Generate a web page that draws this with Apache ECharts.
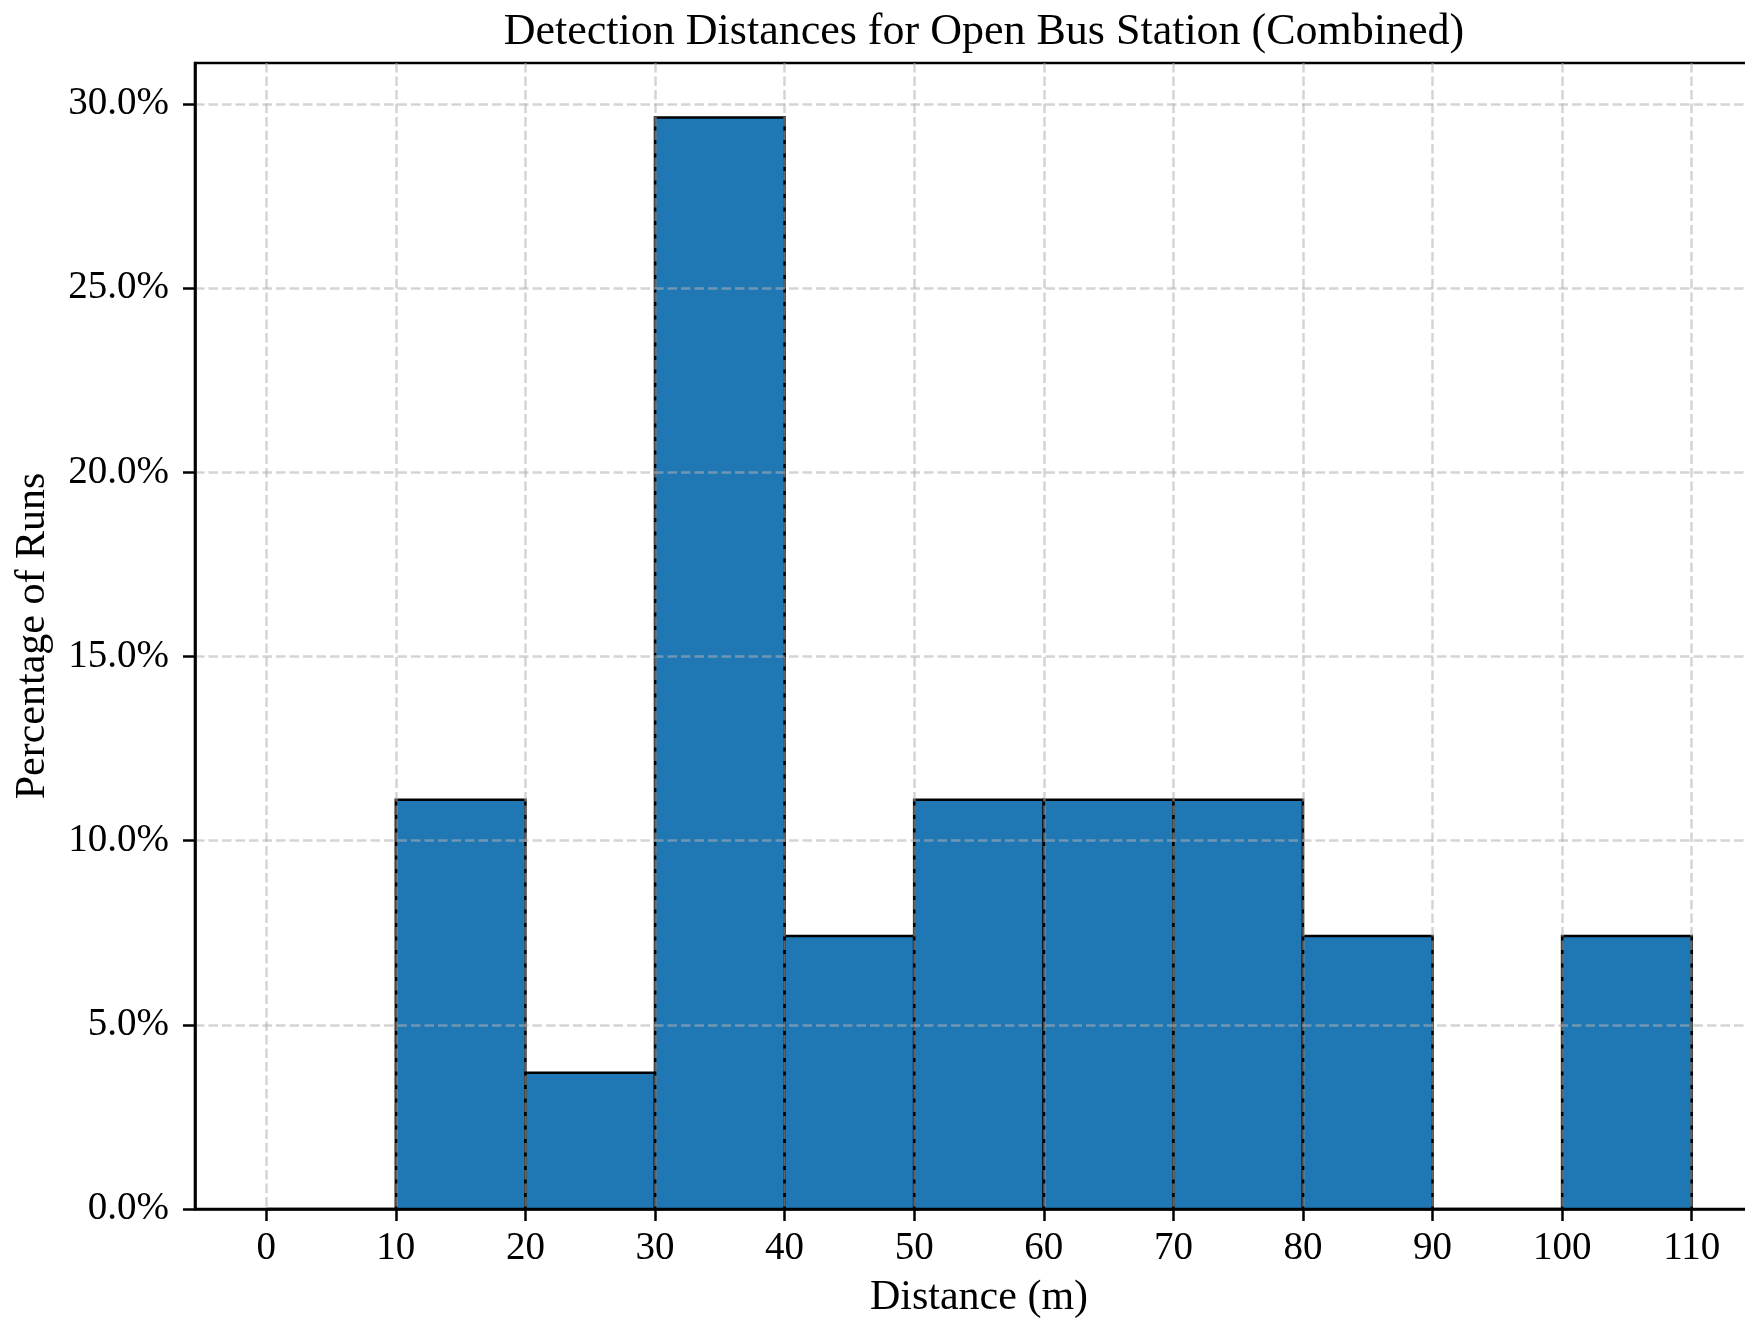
<!DOCTYPE html>
<html>
<head>
<meta charset="utf-8">
<script src="https://cdn.jsdelivr.net/npm/echarts@6/dist/echarts.min.js"></script>
<style>
html,body{margin:0;padding:0;background:#fff;}
#chart{width:1745px;height:1321px;}
</style>
</head>
<body>
<div id="chart"></div>
<script>
// ---- data ----
const titleText = 'Detection Distances for Open Bus Station (Combined)';
const xAxisName = 'Distance (m)';
const yAxisName = 'Percentage of Runs';
const binEdges = [0, 10, 20, 30, 40, 50, 60, 70, 80, 90, 100, 110];
const percentages = [0, 11.11, 3.70, 29.63, 7.41, 11.11, 11.11, 11.11, 7.41, 0, 7.41];
const xTicks = [0, 10, 20, 30, 40, 50, 60, 70, 80, 90, 100, 110];
const yTicks = [0, 5, 10, 15, 20, 25, 30];

const FONT = "'Liberation Serif', 'DejaVu Serif', serif";
const histData = percentages.map((v, i) => [binEdges[i], binEdges[i + 1], v]);

const chart = echarts.init(document.getElementById('chart'), null, {renderer: 'canvas'});
const gridLine = {show: true, lineStyle: {color: 'rgba(176,176,176,0.55)', width: 2.5, type: [9.5, 4]}};

chart.setOption({
  backgroundColor: '#ffffff',
  animation: false,
  title: {
    text: titleText,
    left: 979, textAlign: 'center',
    top: 5,
    textStyle: {fontFamily: FONT, fontSize: 44, fontWeight: 'normal', color: '#000'}
  },
  grid: {
    left: 195, right: -18, top: 63, bottom: 112,
    outerBoundsMode: 'none', containLabel: false,
    show: true, borderColor: '#000', borderWidth: 2.6, backgroundColor: 'transparent'
  },
  xAxis: {
    type: 'value', min: -5.5, max: 115.5, z: 5,
    name: xAxisName, nameLocation: 'middle', nameGap: 68,
    nameTextStyle: {fontFamily: FONT, fontSize: 42, color: '#000'},
    axisLine: {show: true, onZero: false, lineStyle: {color: '#000', width: 2.6}},
    axisTick: {show: true, length: 12, lineStyle: {color: '#000', width: 2.5}, customValues: xTicks},
    axisLabel: {show: true, customValues: xTicks, margin: 20, fontFamily: FONT, fontSize: 39, color: '#000'},
    splitLine: gridLine
  },
  yAxis: {
    type: 'value', min: 0, max: 31.11, z: 5,
    name: yAxisName, nameLocation: 'middle', nameGap: 141, nameRotate: 90,
    nameTextStyle: {fontFamily: FONT, fontSize: 42, color: '#000'},
    axisLine: {show: true, onZero: false, lineStyle: {color: '#000', width: 2.6}},
    axisTick: {show: true, length: 12, lineStyle: {color: '#000', width: 2.5}, customValues: yTicks},
    axisLabel: {show: true, customValues: yTicks, margin: 26, fontFamily: FONT, fontSize: 39, color: '#000',
      formatter: v => v.toFixed(1) + '%'},
    splitLine: Object.assign({showMinLine: false}, gridLine)
  },
  series: [{
    type: 'custom',
    z: 2,
    encode: {x: [0, 1], y: 2},
    data: histData,
    renderItem: function (params, api) {
      const x0 = api.value(0), x1 = api.value(1), h = api.value(2);
      const pTop = api.coord([x0, h]);
      const pBot = api.coord([x1, 0]);
      return {
        type: 'rect',
        shape: {x: pTop[0], y: pTop[1], width: pBot[0] - pTop[0], height: pBot[1] - pTop[1]},
        style: {fill: '#1f77b4', stroke: '#000', lineWidth: 2.6}
      };
    }
  }]
});
</script>
</body>
</html>
